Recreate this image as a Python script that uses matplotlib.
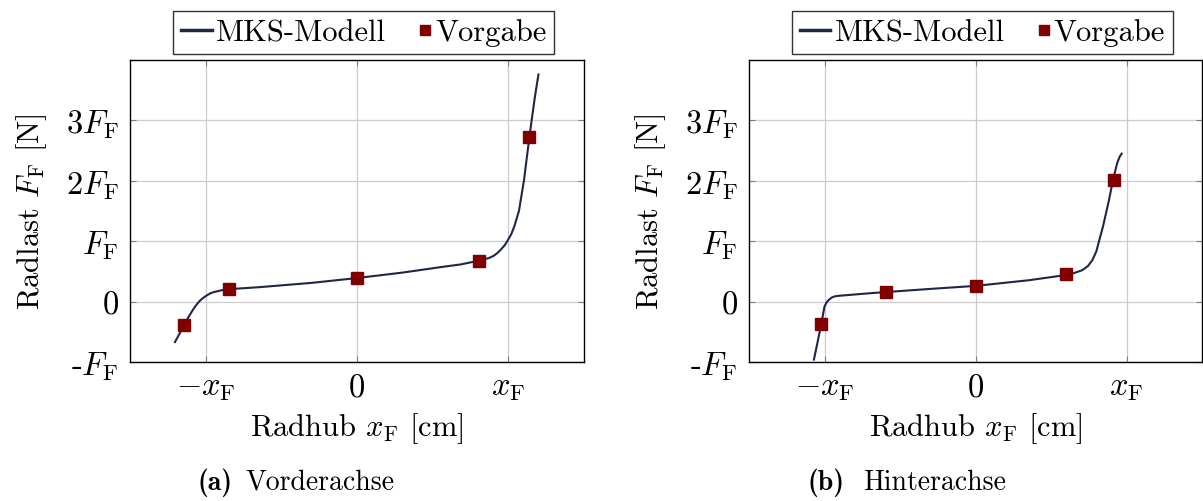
import matplotlib
matplotlib.use("Agg")
import matplotlib.pyplot as plt
from matplotlib.legend_handler import HandlerLine2D

plt.rcParams["font.family"] = "cmr10"
plt.rcParams["mathtext.fontset"] = "cm"
plt.rcParams["axes.unicode_minus"] = False
plt.rcParams["axes.formatter.use_mathtext"] = True

# values in units of x_F (stroke) and F_F (load)
front_curve_x = [-1.203, -1.17, -1.14, -1.11, -1.08, -1.06, -1.04, -1.02, -1.0, -0.975, -0.95,
                 -0.9, -0.85, -0.64, -0.3, 0.0, 0.3, 0.55, 0.684, 0.81, 0.87, 0.905, 0.93,
                 0.95, 0.975, 0.993, 1.02, 1.04, 1.07, 1.103, 1.139, 1.154, 1.175, 1.199]
front_curve_y = [-0.67, -0.52, -0.37, -0.24, -0.12, -0.05, 0.01, 0.055, 0.09, 0.13, 0.155,
                 0.185, 0.205, 0.24, 0.31, 0.39, 0.48, 0.57, 0.615, 0.68, 0.72, 0.76, 0.81,
                 0.86, 0.93, 1.0, 1.12, 1.25, 1.5, 2.0, 2.72, 3.0, 3.38, 3.76]
front_pts_x = [-1.143, -0.846, 0.0, 0.806, 1.139]
front_pts_y = [-0.38, 0.205, 0.39, 0.67, 2.72]

rear_curve_x = [-1.07, -1.055, -1.04, -1.02, -1.0, -0.985, -0.97, -0.95, -0.93, -0.9,
                -0.672, -0.3, 0.0, 0.354, 0.593, 0.65, 0.707, 0.745, 0.774, 0.8, 0.818,
                0.844, 0.884, 0.911, 0.939, 0.955, 0.968]
rear_curve_y = [-0.96, -0.78, -0.6, -0.35, -0.08, -0.01, 0.033, 0.07, 0.088, 0.097,
                0.144, 0.21, 0.26, 0.354, 0.438, 0.47, 0.52, 0.59, 0.686, 0.83, 1.0,
                1.24, 1.68, 2.02, 2.3, 2.4, 2.45]
rear_pts_x = [-1.023, -0.59, 0.0, 0.6, 0.915]
rear_pts_y = [-0.37, 0.165, 0.26, 0.45, 2.02]

xticks = [-1, 0, 1]
xticklabels = [r"$-x_\mathrm{F}$", "0", r"$x_\mathrm{F}$"]
yticks = [-1, 0, 1, 2, 3]
yticklabels = [r"-$F_\mathrm{F}$", "0", r"$F_\mathrm{F}$", r"$2F_\mathrm{F}$", r"$3F_\mathrm{F}$"]

line_color = "#1f2748"
mark_color = "#800000"


class MarkerRight(HandlerLine2D):
    # put the legend square at the right end of its handle, next to the text
    def create_artists(self, legend, orig_handle, xdescent, ydescent, width, height,
                       fontsize, trans):
        arts = super().create_artists(legend, orig_handle, xdescent, ydescent, width,
                                      height, fontsize, trans)
        x = width - xdescent - 3.8
        for a in arts:
            a.set_xdata([x, x, x])
        return arts


fig = plt.figure(figsize=(12.03, 5.02), dpi=100)
W, H = 1203.0, 502.0
axes = [fig.add_axes([130 / W, (H - 363) / H, 454 / W, 302 / H]),
        fig.add_axes([749 / W, (H - 363) / H, 453 / W, 302 / H])]

data = [(front_curve_x, front_curve_y, front_pts_x, front_pts_y),
        (rear_curve_x, rear_curve_y, rear_pts_x, rear_pts_y)]

for ax, (cx, cy, px, py) in zip(axes, data):
    ln, = ax.plot(cx, cy, color=line_color, lw=1.5, label="MKS-Modell", zorder=3)
    mk, = ax.plot(px, py, "s", color=mark_color, ms=8.5, label="Vorgabe", zorder=4)
    ax.set_xlim(-1.5, 1.5)
    ax.set_ylim(-1, 4)
    ax.set_xticks(xticks)
    ax.set_xticklabels(xticklabels)
    ax.set_yticks(yticks)
    ax.set_yticklabels(yticklabels)
    ax.grid(True, color="#cccccc", lw=0.9)
    ax.set_axisbelow(True)
    ax.tick_params(direction="in", length=4, width=0.8, color="#808080",
                   top=True, right=True, labelsize=23.5, pad=8)
    for s in ax.spines.values():
        s.set_linewidth(1.0)
    ax.set_xlabel(r"Radhub $x_\mathrm{F}$ [cm]", fontsize=22, labelpad=6)
    ax.set_ylabel(r"Radlast $F_\mathrm{F}$ [N]", fontsize=22, labelpad=12)
    leg = ax.legend(loc="lower center", bbox_to_anchor=(0.515, 1.02), ncol=2,
                    fontsize=22, frameon=True, fancybox=False, edgecolor="black",
                    handlelength=1.0, handletextpad=0.15, columnspacing=0.45,
                    borderpad=0.25, borderaxespad=0,
                    handler_map={mk: MarkerRight(numpoints=1)})
    leg.get_frame().set_linewidth(1.0)
    leg.legend_handles[0].set_linewidth(2.5)
    leg.legend_handles[1].set_markersize(7.5)

fig.text(233 / W, (H - 490) / H, "(a)", family="cmb10", fontsize=20,
         ha="right", va="baseline")
fig.text(245.7 / W, (H - 490) / H, "Vorderachse", fontsize=20, ha="left", va="baseline")
fig.text(845 / W, (H - 490) / H, "(b)", family="cmb10", fontsize=20,
         ha="right", va="baseline")
fig.text(862.7 / W, (H - 490) / H, "Hinterachse", fontsize=20, ha="left", va="baseline")

fig.savefig("out.png", dpi=100)
